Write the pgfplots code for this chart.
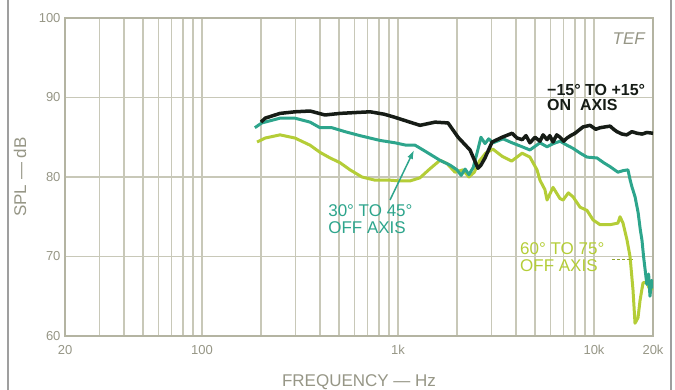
\documentclass[border=0pt]{standalone}
\usepackage{pgfplots}
\pgfplotsset{compat=1.18}
\usepackage{fontspec}
\setmainfont{Liberation Sans}
\usetikzlibrary{arrows.meta}
\definecolor{gridc}{RGB}{200,200,184}
\definecolor{axc}{RGB}{180,180,162}
\definecolor{labc}{RGB}{150,150,134}
\definecolor{onax}{RGB}{22,28,22}
\definecolor{tealc}{RGB}{45,165,140}
\definecolor{yelc}{RGB}{180,205,55}

\pgfplotstableread{
f db
200 86.9
210 87.4
250 88.0
298 88.2
356 88.3
424 87.8
506 88.0
600 88.1
720 88.2
850 87.9
966 87.5
1150 86.9
1295 86.5
1545 86.9
1800 86.8
2025 85.0
2330 83.4
2560 81.1
2650 81.5
2780 82.4
3020 84.4
3400 85.0
3820 85.5
4050 84.9
4300 84.7
4500 85.2
4710 84.3
5000 85.0
5300 84.5
5500 85.3
5760 84.7
5950 85.2
6180 84.4
6450 85.3
6710 85.0
7000 84.5
7280 84.9
7600 85.2
8000 85.5
8790 86.3
9550 86.5
10200 86.0
10740 86.2
12080 86.4
12600 86.0
13100 85.7
13900 85.4
14700 85.3
15600 85.7
16600 85.5
17600 85.4
18600 85.6
20000 85.5
}\onaxis

\pgfplotstableread{
f db
186 86.2
202 86.8
250 87.4
298 87.4
356 86.9
400 86.2
460 86.2
537 85.7
640 85.2
809 84.6
966 84.3
1100 84.0
1222 84.0
1406 83.1
1637 82.1
1842 81.5
2000 80.9
2100 80.2
2200 81.0
2300 80.3
2420 81.2
2530 83.0
2650 85.0
2780 84.2
2900 84.8
3054 84.3
3434 84.8
3820 84.3
4300 83.8
4710 83.4
5300 84.3
5760 83.8
6200 84.2
6710 84.5
7280 84.0
7820 83.6
8500 83.0
9210 82.5
10350 82.4
11200 81.8
12080 81.3
13250 80.6
14060 80.8
14900 80.9
15300 79.6
15600 78.8
16200 77.5
16800 75.5
17200 73.5
17580 72.0
17900 70.0
18200 68.5
18600 66.5
19000 67.8
19300 65.0
19700 67.0
20000 66.0
}\offaxisA

\pgfplotstableread{
f db
191 84.4
210 84.9
250 85.3
298 84.9
356 84.0
400 83.1
450 82.4
506 81.8
569 80.9
655 80.0
763 79.6
910 79.6
1024 79.5
1150 79.5
1295 79.9
1450 81.0
1637 82.1
1778 81.7
1954 80.6
2146 80.9
2300 80.0
2450 80.6
2600 82.0
2800 83.0
3050 83.5
3400 82.6
3800 82.0
4300 83.0
4710 82.5
5120 80.9
5300 79.6
5620 78.4
5760 77.1
6180 78.7
6700 77.3
6950 77.1
7400 78.0
7820 77.5
8490 76.2
9210 75.8
9890 74.6
10740 74.0
12080 74.0
13250 74.2
13580 75.0
14060 74.2
14730 72.1
15270 70.0
15810 65.8
16190 61.6
16770 62.3
17180 64.5
17790 66.7
18620 66.7
19310 65.8
20000 66.0
}\offaxisB

\begin{document}
\begin{tikzpicture}
\useasboundingbox (-65pt,-54pt) rectangle (610pt,336pt);
\draw[gray!75, line width=1.2pt] (-57pt,-54pt) -- (-57pt,336pt);
\draw[gray!75, line width=1.2pt] (606pt,-54pt) -- (606pt,336pt);
\begin{axis}[
  at={(0,0)}, anchor=south west,
  scale only axis, width=588pt, height=318pt,
  xmode=log, xmin=20, xmax=20000, ymin=60, ymax=100,
  xtick={20,100,1000,10000,20000},
  xticklabels={20,100,1k,10k,20k},
  minor xtick={30,40,50,60,70,80,90,200,300,400,500,600,700,800,900,2000,3000,4000,5000,6000,7000,8000,9000},
  ytick={60,70,80,90,100},
  yticklabels={60,70,80,90,100},
  grid=both,
  major grid style={gridc, line width=1.5pt},
  minor grid style={gridc, line width=1.5pt},
  axis line style={axc, line width=2.5pt},
  major tick length=0pt, minor tick length=0pt,
  tick label style={labc, font=\fontsize{13}{13}\selectfont},
  xticklabel style={yshift=-6pt},
  yticklabel style={xshift=-1pt},
  xlabel={FREQUENCY — Hz}, ylabel={SPL — dB},
  label style={labc, font=\fontsize{17}{17}\selectfont},
  xlabel style={at={(axis description cs:0.5,-0.1447)}, anchor=center},
  ylabel style={at={(axis description cs:-0.0765,0.5)}, anchor=center},
  clip=true,
]
\addplot[yelc, line width=3pt, line join=round] table[x=f,y=db] {\offaxisB};
\addplot[tealc, line width=3pt, line join=round] table[x=f,y=db] {\offaxisA};
\addplot[onax, line width=3.5pt, line join=round] table[x=f,y=db] {\onaxis};

\draw[tealc, line width=1.5pt, -{Latex[length=9pt,width=6pt]}] (axis cs:910,77.1) -- (axis cs:1208,83.4);
\draw[yelc!80!black, line width=1.4pt, dash pattern=on 3pt off 2pt] (axis cs:12360,69.6) -- (axis cs:15810,69.6);

\node[anchor=east, labc, font=\fontsize{17}{17}\selectfont\itshape, inner sep=0pt] at (axis cs:18200,97.4) {TEF};
\node[anchor=north west, onax, align=left, inner sep=0pt, font=\fontsize{16}{16}\selectfont\bfseries] at (axis cs:5760,91.7) {−15° TO +15°\\[-1pt]ON\ \ AXIS};
\node[anchor=north west, tealc, align=left, inner sep=0pt, font=\fontsize{17}{17}\selectfont] at (axis cs:440,76.6) {30° TO 45°\\[0pt]OFF AXIS};
\node[anchor=north west, yelc, align=left, inner sep=0pt, font=\fontsize{17}{17}\selectfont] at (axis cs:4190,71.8) {60° TO 75°\\[0pt]OFF AXIS};
\end{axis}
\end{tikzpicture}
\end{document}
